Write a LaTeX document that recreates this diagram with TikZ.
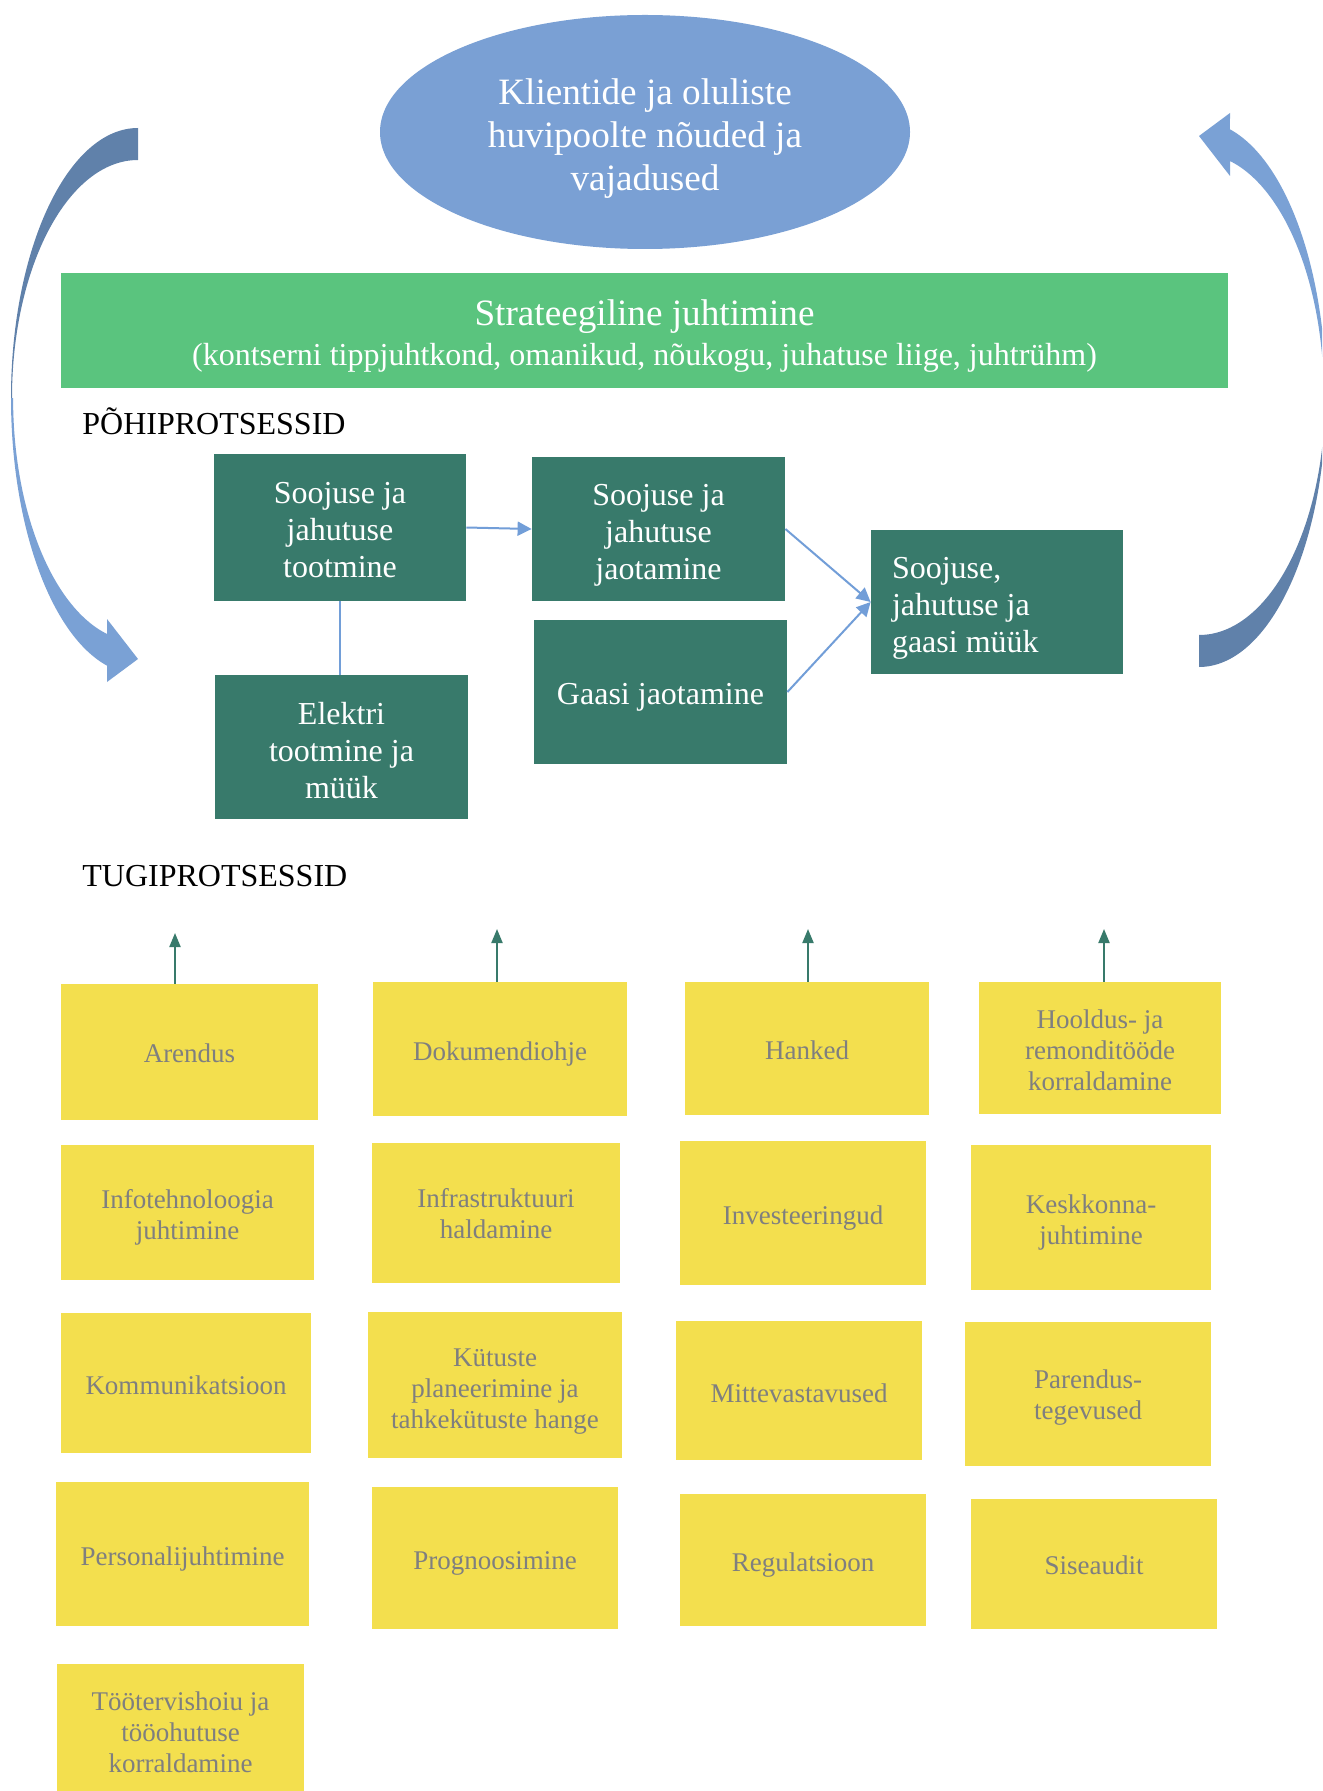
\documentclass[tikz,border=0pt]{standalone}
\usepackage{fontspec}
\setmainfont{Liberation Serif}
\usetikzlibrary{arrows.meta,shapes.geometric}
\definecolor{ellblue}{RGB}{122,160,212}
\definecolor{arrdark}{RGB}{96,129,170}
\definecolor{arrlight}{RGB}{122,161,213}
\definecolor{grn}{RGB}{90,196,126}
\definecolor{teal}{RGB}{56,122,107}
\definecolor{yel}{RGB}{243,223,78}
\definecolor{ygray}{RGB}{127,127,127}
\definecolor{conblue}{RGB}{114,158,216}
\newcommand\dn[1]{\rule{0pt}{\dimexpr0.69em+#1pt\relax}}
\begin{document}
\begin{tikzpicture}[x=0.5pt,y=-0.5pt,
  dbox/.style={fill=teal,text=white,inner sep=0pt,align=flush center,font=\fontsize{16}{18.5}\selectfont},
  ybox/.style={fill=yel,text=ygray,inner sep=0pt,align=flush center,font=\fontsize{13.5}{15.5}\selectfont},
  conn/.style={draw=conblue,line width=1pt},
  carrow/.style={conn,-{Triangle[length=7pt,width=7pt]}},
  tarrow/.style={draw=teal,line width=1pt,-{Triangle[length=7pt,width=5.5pt]}},
  heading/.style={anchor=west,font=\fontsize{16}{19}\selectfont,inner sep=0pt}]
\useasboundingbox (0,0) rectangle (1322,1791);
\clip (0,0) rectangle (1322,1791);
\fill[white] (0,0) rectangle (1322,1791);

% curved arrows
\begin{scope}
\fill[arrdark] (138,128) arc[start angle=90,end angle=180,x radius=63.5pt,y radius=135pt] -- (12,398) arc[start angle=180,end angle=90,x radius=63pt,y radius=119pt] -- cycle;
\fill[arrlight] (11,398) arc[start angle=180,end angle=255.9,x radius=63.5pt,y radius=138pt] -- (107,682) -- (138,659) -- (107,619) -- (107,634) arc[start angle=255.6,end angle=180,x radius=62.5pt,y radius=121.8pt] -- cycle;
\end{scope}
\begin{scope}[rotate around={180:(668.5,397.5)}]
\fill[arrdark] (138,128) arc[start angle=90,end angle=180,x radius=63.5pt,y radius=135pt] -- (12,398) arc[start angle=180,end angle=90,x radius=63pt,y radius=119pt] -- cycle;
\fill[arrlight] (11,398) arc[start angle=180,end angle=255.9,x radius=63.5pt,y radius=138pt] -- (107,682) -- (138,659) -- (107,619) -- (107,634) arc[start angle=255.6,end angle=180,x radius=62.5pt,y radius=121.8pt] -- cycle;
\end{scope}

% top
\node[ellipse,fill=ellblue,minimum width=265pt,minimum height=117pt,inner sep=0pt,text=white,align=flush center,font=\fontsize{18.6}{21.5}\selectfont] (kl) at (645,132) {\dn{7}Klientide ja oluliste\\huvipoolte nõuded ja\\vajadused};
\node[fill=grn,minimum width=583.5pt,minimum height=57.5pt,inner sep=0pt,text=white,text width=583.5pt,align=flush center,font=\fontsize{18.6}{20}\selectfont] (st) at (644.5,331) {\dn{5.5}Strateegiline juhtimine\\{\fontsize{16}{20}\selectfont (kontserni tippjuhtkond, omanikud, nõukogu, juhatuse liige, juhtrühm)}};

\node[heading] (ph) at (82,421.7) {PÕHIPROTSESSID};
\node[heading] (tp) at (82,876) {TUGIPROTSESSID};

% main processes
\node[dbox,text width=126pt,minimum height=73.5pt] (a) at (340,527.5) {\dn{2.3}Soojuse ja\\jahutuse\\tootmine};
\node[dbox,text width=126.5pt,minimum height=72pt] (b) at (658.5,529) {\dn{6}Soojuse ja\\jahutuse\\jaotamine};
\node[dbox,text width=105pt,inner xsep=10.5pt,align=flush left,minimum height=72pt] (c) at (997,602) {\dn{5.7}Soojuse,\\jahutuse ja\\gaasi müük};
\node[dbox,text width=126.5pt,minimum height=72pt] (d) at (660.5,692) {\dn{4.5}Gaasi jaotamine};
\node[dbox,text width=126.5pt,minimum height=72pt] (e) at (341.5,747) {\dn{3.4}Elektri\\tootmine ja\\müük};

\draw[carrow] (a.east) -- (b.west);
\draw[conn] (a.south) -- (a.south |- e.north);
\draw[carrow] (b.east) -- (c.west);
\draw[carrow] (d.east) -- (c.west);

% support processes
\node[ybox,text width=128.5pt,minimum height=68pt] (y1) at (189.5,1052) {\dn{1.1}Arendus};
\node[ybox,text width=127pt,minimum height=67pt] (y2) at (500,1049) {\dn{4.6}Dokumendiohje};
\node[ybox,text width=122pt,minimum height=66.5pt] (y3) at (807,1048.5) {\dn{2.3}Hanked};
\node[ybox,text width=121pt,minimum height=66pt] (y4) at (1100,1048) {\dn{2.3}Hooldus- ja\\remonditööde\\korraldamine};

\node[ybox,text width=126.5pt,minimum height=67.5pt] (y5) at (187.5,1212.5) {\dn{4.6}Infotehnoloogia\\juhtimine};
\node[ybox,text width=124pt,minimum height=70pt] (y6) at (496,1213) {\dn{1.1}Infrastruktuuri\\haldamine};
\node[ybox,text width=123pt,minimum height=72pt] (y7) at (803,1213) {\dn{4.6}Investeeringud};
\node[ybox,text width=120pt,minimum height=72.5pt] (y8) at (1091,1217.5) {\dn{4.6}Keskkonna-\\juhtimine};

\node[ybox,text width=125pt,minimum height=70pt] (y9) at (186,1383) {\dn{2.3}Kommunikatsioon};
\node[ybox,text width=127pt,minimum height=73pt] (y10) at (495,1385) {\dn{5.7}Kütuste\\planeerimine ja\\tahkekütuste hange};
\node[ybox,text width=123pt,minimum height=69.5pt] (y11) at (799,1390.5) {\dn{2.3}Mittevastavused};
\node[ybox,text width=123pt,minimum height=72pt] (y12) at (1088,1394) {\dn{3.4}Parendus-\\tegevused};

\node[ybox,text width=126.5pt,minimum height=72pt] (y13) at (182.5,1554) {\dn{4.6}Personalijuhtimine};
\node[ybox,text width=123pt,minimum height=71pt] (y14) at (495,1558) {\dn{4.6}Prognoosimine};
\node[ybox,text width=123pt,minimum height=66pt] (y15) at (803,1560) {\dn{4.6}Regulatsioon};
\node[ybox,text width=123pt,minimum height=65pt] (y16) at (1094,1564) {\dn{1.1}Siseaudit};

\node[ybox,text width=123.5pt,minimum height=68pt] (y17) at (180.5,1732) {Töötervishoiu ja\\tööohutuse\\korraldamine};

\coordinate (t1) at (175,933);
\coordinate (t2) at (497,929);
\coordinate (t3) at (808,929);
\coordinate (t4) at (1104,929);
\draw[tarrow] (y1.north -| t1) -- (t1);
\draw[tarrow] (y2.north -| t2) -- (t2);
\draw[tarrow] (y3.north -| t3) -- (t3);
\draw[tarrow] (y4.north -| t4) -- (t4);
\end{tikzpicture}
\end{document}
